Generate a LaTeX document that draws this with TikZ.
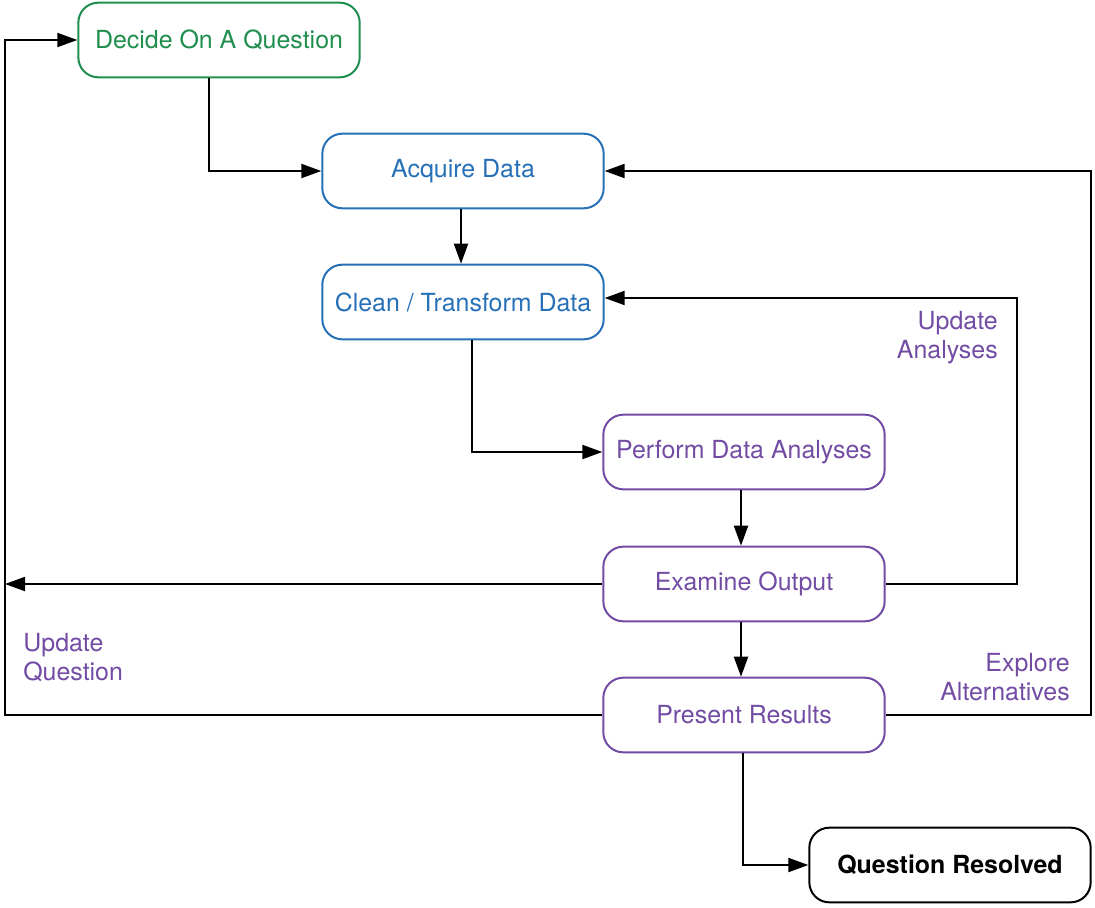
\documentclass[tikz,border=0pt]{standalone}
\usepackage{fontspec}
\setmainfont{TeX Gyre Heros}
\usetikzlibrary{arrows.meta}
\definecolor{cgreen}{RGB}{32,142,78}
\definecolor{cblue}{RGB}{38,112,184}
\definecolor{cpurple}{RGB}{114,76,164}
\tikzset{
  box/.style={draw, line width=1.5pt, rounded corners=15pt, minimum width=211pt, minimum height=56pt, inner sep=0pt, font=\fontsize{18.7}{22}\selectfont},
  gbox/.style={box, draw=cgreen, text=cgreen},
  bbox/.style={box, draw=cblue, text=cblue},
  pbox/.style={box, draw=cpurple, text=cpurple},
  kbox/.style={box, draw=black, text=black, font=\fontsize{18.7}{22}\selectfont\bfseries},
  conn/.style={draw=black, line width=1.5pt},
  arr/.style={conn, -{Triangle[length=15pt, width=10.5pt]}},
  lbl/.style={text=cpurple, inner sep=0pt, font=\fontsize{18.7}{21.8}\selectfont}
}
\begin{document}
\begin{tikzpicture}[x=0.75pt, y=-0.75pt]
\useasboundingbox (0,0) rectangle (1095,907);
\node[gbox] (decide) at (219,40) {Decide On A Question};
\node[bbox] (acquire) at (463,171) {Acquire Data};
\node[bbox] (clean) at (463,302) {Clean / Transform Data};
\node[pbox] (perform) at (744,452) {Perform Data Analyses};
\node[pbox] (examine) at (744,584) {Examine Output};
\node[pbox] (present) at (744,715) {Present Results};
\node[kbox] (resolved) at (950,865) {Question Resolved};

\coordinate (lx) at (5,0);
\coordinate (ax) at (1017,0);
\coordinate (ex) at (1091,0);
\coordinate (cy) at (0,298);

\node[lbl, anchor=east, align=right] (ua) at (998,338) {Update\\Analyses};
\node[lbl, anchor=west, align=left] (uq) at (23,658) {Update\\Question};
\node[lbl, anchor=east, align=right] (ea) at (1070,677) {Explore\\Alternatives};

\draw[arr] (decide.south -| 209,0) |- (acquire.west);
\draw[arr] (acquire.south -| 461,0) -- (clean.north -| 461,0);
\draw[arr] (clean.south -| 472,0) |- (perform.west);
\draw[arr] (perform.south -| 741,0) -- (examine.north -| 741,0);
\draw[arr] (examine.south -| 741,0) -- (present.north -| 741,0);
\draw[arr] (present.south -| 743,0) |- (resolved.west);
\draw[arr] (examine.west) -- (examine.west -| lx);
\draw[arr] (present.west) -- (present.west -| lx) -- (decide.west -| lx) -- (decide.west);
\draw[arr] (examine.east) -- (examine.east -| ax) -- (ax |- cy) -- (clean.east |- cy);
\draw[arr] (present.east) -- (present.east -| ex) -- (acquire.east -| ex) -- (acquire.east);
\end{tikzpicture}
\end{document}
